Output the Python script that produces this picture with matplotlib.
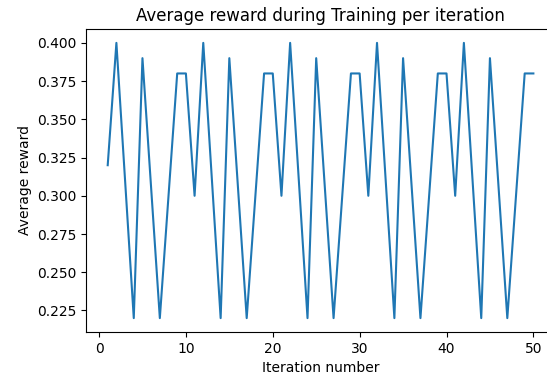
import matplotlib
matplotlib.use("Agg")
from matplotlib import pyplot as plt

iterations = list(range(1, 51))
# one cycle of 10 rewards (repeats 5 times)
cycle = [0.32, 0.40, 0.31, 0.22, 0.39, 0.305, 0.22, 0.30, 0.38, 0.38]
cycle_rest = [0.30, 0.40, 0.31, 0.22, 0.39, 0.305, 0.22, 0.30, 0.38, 0.38]
rewards = cycle + cycle_rest * 4

fig = plt.figure(figsize=(5.47, 3.78), dpi=100)
# the original picture is cut off on the right, so the axes run past the edge
ax = fig.add_axes([0.158, 0.122, 0.856, 0.801])
ax.plot(iterations, rewards, color="#1f77b4")

ax.set_title("Average reward during Training per iteration")
ax.set_xlabel("Iteration number")
ax.set_ylabel("Average reward")

fig.savefig("out.png", dpi=100)
